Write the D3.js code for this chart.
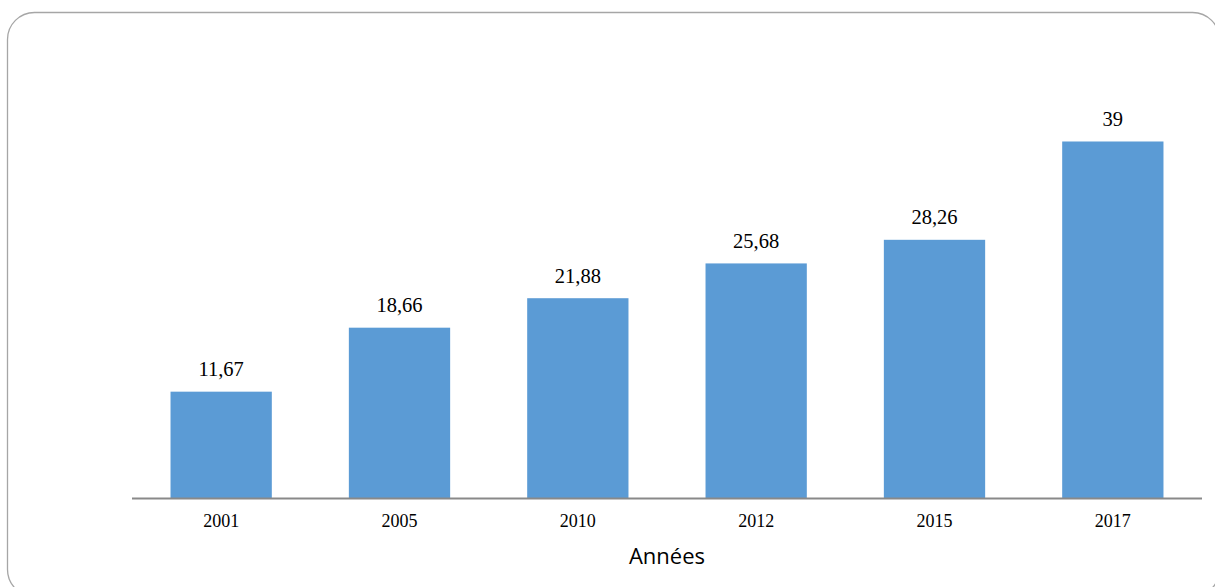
<!DOCTYPE html>
<html>
<head>
<meta charset="utf-8">
<script src="https://cdn.jsdelivr.net/npm/d3@7"></script>
<style>
  html, body { margin: 0; padding: 0; background: #fff; }
  svg { display: block; }
</style>
</head>
<body>
<svg id="chart" width="1215" height="587"></svg>
<script>
// Data
const years = ["2001", "2005", "2010", "2012", "2015", "2017"];
const values = [11.67, 18.66, 21.88, 25.68, 28.26, 39];
const valueLabels = ["11,67", "18,66", "21,88", "25,68", "28,26", "39"];
const axisTitle = "Années";

const svg = d3.select("#chart");
const W = 1215, H = 587;

// Rounded frame around the chart area
svg.append("rect")
  .attr("x", 7.5).attr("y", 12.5)
  .attr("width", 1212).attr("height", 584)
  .attr("rx", 27).attr("ry", 27)
  .attr("fill", "#fff")
  .attr("stroke", "#a6a6a6")
  .attr("stroke-width", 1.3);

const plot = { left: 132, right: 1202, bottom: 498.5 };

const x = d3.scaleBand()
  .domain(years)
  .range([plot.left, plot.right])
  .paddingInner(0.432)
  .paddingOuter(0.216);

const y = d3.scaleLinear()
  .domain([0, 45])
  .range([plot.bottom, plot.bottom - 45 * 9.154]);

const data = years.map((yr, i) => ({ year: yr, value: values[i], label: valueLabels[i] }));

// Bars
svg.append("g").selectAll("rect")
  .data(data)
  .join("rect")
  .attr("x", d => x(d.year))
  .attr("y", d => y(d.value))
  .attr("width", x.bandwidth())
  .attr("height", d => y(0) - y(d.value))
  .attr("fill", "#5b9bd5");

// Value labels
svg.append("g").selectAll("text")
  .data(data)
  .join("text")
  .attr("x", d => x(d.year) + x.bandwidth() / 2)
  .attr("y", d => y(d.value) - 15.5)
  .attr("text-anchor", "middle")
  .attr("font-family", "'Liberation Serif', 'Times New Roman', serif")
  .attr("font-size", 20.5)
  .attr("fill", "#000")
  .text(d => d.label);

// Category axis
const xAxis = d3.axisBottom(x).tickSize(0).tickPadding(0);
const gx = svg.append("g")
  .attr("transform", `translate(0,${plot.bottom})`)
  .call(xAxis);
gx.select(".domain")
  .attr("d", `M${plot.left},0H${plot.right}`)
  .attr("stroke", "#898989")
  .attr("stroke-width", 2);
gx.selectAll(".tick text")
  .attr("y", 28.5)
  .attr("dy", null)
  .attr("font-family", "'Liberation Serif', 'Times New Roman', serif")
  .attr("font-size", 18)
  .attr("fill", "#000");

// Axis title
svg.append("text")
  .attr("x", (plot.left + plot.right) / 2)
  .attr("y", 563.5)
  .attr("text-anchor", "middle")
  .attr("font-family", "'Open Sans', sans-serif")
  .attr("font-size", 22)
  .attr("fill", "#000")
  .text(axisTitle);
</script>
</body>
</html>
